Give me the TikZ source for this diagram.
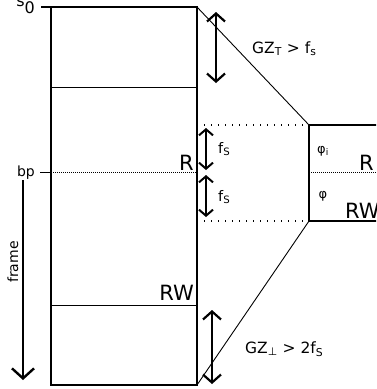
\documentclass[tikz,border=0pt]{standalone}
\usepackage{fontspec}
\setmainfont{DejaVu Sans}
\usetikzlibrary{arrows.meta}
\begin{document}
\begin{tikzpicture}[x=1pt,y=-1pt,
  boxline/.style={line width=1.2pt},
  thinline/.style={line width=0.9pt},
  sparsedots/.style={line width=1.2pt, dash pattern=on 1.2pt off 5.8pt},
  densedots/.style={line width=0.9pt, dash pattern=on 1pt off 1pt},
  dblarrow/.style={line width=2.4pt, line cap=round, {Straight Barb[length=8pt,width=18pt,line width=2.2pt]}-{Straight Barb[length=8pt,width=18pt,line width=2.2pt]}},
  smallarrow/.style={line width=2pt, line cap=round, {Straight Barb[length=6pt,width=14pt,line width=2pt]}-{Straight Barb[length=6pt,width=14pt,line width=2pt]}},
  framearrow/.style={line width=2.4pt, -{Straight Barb[length=10pt,width=22pt,line width=2.4pt]}},
  lbl/.style={inner sep=0pt, font=\fontsize{13.5}{15}\selectfont},
  gzlbl/.style={inner sep=0pt, font=\fontsize{15.5}{17}\selectfont},
  biglbl/.style={inner sep=0pt, font=\fontsize{21}{23}\selectfont},
  phil/.style={inner sep=0pt, font=\fontsize{13}{15}\selectfont},
]
\useasboundingbox (0,0) rectangle (376,389);
\clip (0,0) rectangle (376,389);

% coordinates
\coordinate (TL) at (51,7);
\coordinate (TR) at (197,7);
\coordinate (BL) at (51,385);
\coordinate (BR) at (197,385);
\coordinate (S0tick) at (41,7);
\coordinate (M1L) at (51,87);
\coordinate (M1R) at (197,87);
\coordinate (M2L) at (51,305);
\coordinate (M2R) at (197,305);
\coordinate (BPtick) at (40,172);
\coordinate (BPL) at (51,172);
\coordinate (BPR) at (197,172);
\coordinate (D1L) at (197,125);
\coordinate (D2L) at (197,221);
\coordinate (Q1) at (309,125);
\coordinate (Q2) at (309,221);
\coordinate (Q1r) at (380,125);
\coordinate (Q2r) at (380,221);
\coordinate (QM) at (309,172);
\coordinate (QMr) at (380,172);

% left frame box
\draw[boxline] (TL) rectangle (BR);
\draw[line width=2pt] (S0tick) -- (TR);
\draw[thinline] (M1L) -- (M1R);
\draw[thinline] (M2L) -- (M2R);
\draw[thinline] (BPtick) -- (BPL);
\draw[densedots] (BPL) -- (BPR);

% dotted window lines
\draw[sparsedots] (D1L) -- (Q1);
\draw[sparsedots] (D2L) -- (Q2);

% right box
\draw[boxline] (Q1r) -- (Q1) -- (Q2) -- (Q2r);
\draw[densedots] (QM) -- (QMr);

% diagonals
\draw[thinline] (TR) -- (Q1);
\draw[thinline] (Q2) -- (BR);

% arrows
\coordinate (A1t) at (216,12);
\coordinate (A1b) at (216,83);
\coordinate (A2t) at (206,128);
\coordinate (A2b) at (206,170);
\coordinate (A3t) at (206,175);
\coordinate (A3b) at (206,217);
\coordinate (A4t) at (212,310);
\coordinate (A4b) at (212,384);
\coordinate (Ft) at (23,180);
\coordinate (Fb) at (23,380);
\draw[dblarrow] (A1t) -- (A1b);
\draw[smallarrow] (A2t) -- (A2b);
\draw[smallarrow] (A3t) -- (A3b);
\draw[dblarrow] (A4t) -- (A4b);
\draw[framearrow] (Ft) -- (Fb);

% labels
\node[lbl, font=\fontsize{16}{18}\selectfont, anchor=base east] (s0) at (35,13) {\raisebox{7pt}{s}0};
\node[lbl, font=\fontsize{14}{16}\selectfont, anchor=base east] (bp) at (35,176) {bp};
\node[lbl, font=\fontsize{14}{16}\selectfont, rotate=90] (frame) at (13,262) {frame};
\node[biglbl, anchor=base east] (Rl) at (194,170) {R};
\node[biglbl, anchor=base east] (RWl) at (194,300) {RW};
\node[lbl, font=\fontsize{14.5}{16}\selectfont, anchor=base west] (fs1) at (218,153) {f\textsubscript{S}};
\node[lbl, font=\fontsize{14.5}{16}\selectfont, anchor=base west] (fs2) at (218,201) {f\textsubscript{S}};
\node[gzlbl, anchor=base west] (gzt) at (252,53) {GZ\textsubscript{T} > f\textsubscript{s}};
\node[gzlbl, anchor=base west] (gzp) at (245,353) {GZ\textsubscript{⊥} > 2f\textsubscript{S}};
\node[phil] (phii) at (323,151) {φ\textsubscript{i}};
\node[phil] (phi) at (323,196) {φ};
\node[biglbl, anchor=base west] (Rr) at (359,170) {R};
\node[biglbl, anchor=base west] (RWr) at (345,218) {RW};
\end{tikzpicture}
\end{document}
